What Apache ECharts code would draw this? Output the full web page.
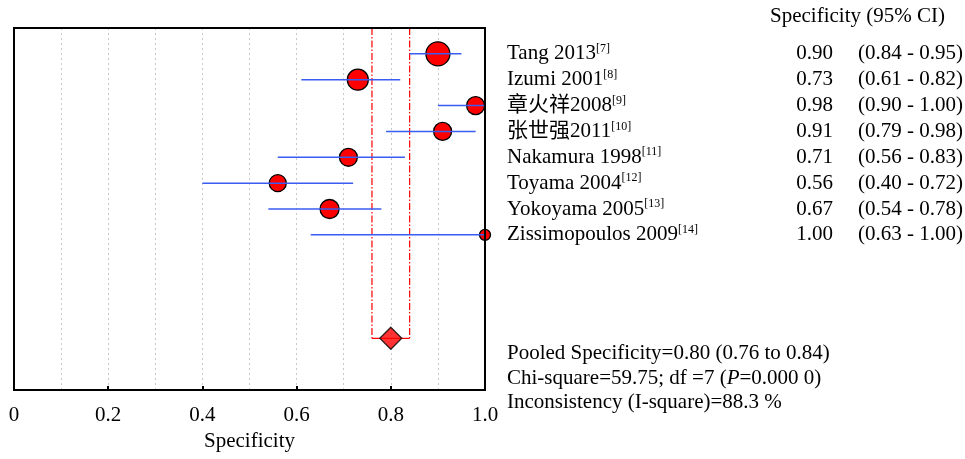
<!DOCTYPE html>
<html>
<head>
<meta charset="utf-8">
<title>Specificity forest plot</title>
<script src="https://cdn.jsdelivr.net/npm/echarts@6/dist/echarts.min.js"></script>
<style>
  html, body { margin: 0; padding: 0; background: #fff; }
  #chart { width: 965px; height: 459px; }
</style>
</head>
<body>
<div id="chart"></div>
<script>
  // study data, top row first
  var studies = ['Tang 2013', 'Izumi 2001', '章火祥2008', '张世强2011', 'Nakamura 1998', 'Toyama 2004', 'Yokoyama 2005', 'Zissimopoulos 2009'];
  var refs = ['7', '8', '9', '10', '11', '12', '13', '14'];
  var spec = [0.90, 0.73, 0.98, 0.91, 0.71, 0.56, 0.67, 1.00];
  var lower = [0.84, 0.61, 0.90, 0.79, 0.56, 0.40, 0.54, 0.63];
  var upper = [0.95, 0.82, 1.00, 0.98, 0.83, 0.72, 0.78, 1.00];
  var weights = [20.9, 16.0, 11.7, 11.7, 11.7, 10.5, 13.1, 4.4]; // % weight, drives marker size
  // pooled estimate: [value, lower, upper]
  var pooled = [0.80, 0.76, 0.84];
  var pooledRow = 11;
  var xTicks = [0, 0.2, 0.4, 0.6, 0.8, 1.0];
  var stats = ['Pooled Specificity=0.80 (0.76 to 0.84)', 'Chi-square=59.75; df =7 (', 'P', '=0.000 0)', 'Inconsistency (I-square)=88.3 %'];

  var FONT = '"Liberation Serif", "Times New Roman", "Noto Sans CJK SC", serif';
  var FS = 21;
  var chart = echarts.init(document.getElementById('chart'));

  var rows = studies.map(function (s, i) { return i; });

  function ciItem(params, api) {
    var a = api.coord([api.value(0), api.value(2)]);
    var b = api.coord([api.value(1), api.value(2)]);
    return {
      type: 'line',
      shape: { x1: a[0], y1: a[1], x2: b[0], y2: b[1] },
      style: { stroke: '#3a5cf0', lineWidth: 1.5 }
    };
  }

  function pooledBox(params, api) {
    var lo = pooled[1], hi = pooled[2];
    var tl = api.coord([lo, -1]), bl = api.coord([lo, pooledRow]);
    var tr = api.coord([hi, -1]), br = api.coord([hi, pooledRow]);
    var dash = { stroke: '#ff0000', lineWidth: 1.2, lineDash: [7, 2, 1.5, 2] };
    var solid = { stroke: '#ff0000', lineWidth: 1.2 };
    return {
      type: 'group',
      children: [
        { type: 'line', shape: { x1: tl[0], y1: tl[1], x2: bl[0], y2: bl[1] }, style: dash },
        { type: 'line', shape: { x1: tr[0], y1: tr[1], x2: br[0], y2: br[1] }, style: dash },
        { type: 'line', shape: { x1: bl[0], y1: bl[1], x2: br[0], y2: br[1] }, style: solid }
      ]
    };
  }

  function tableItem(params, api) {
    var i = params.dataIndex;
    var p = api.coord([0, i]);
    var base = { fontFamily: FONT, fontSize: FS, fill: '#000', verticalAlign: 'middle' };
    return {
      type: 'group',
      children: [
        {
          type: 'text', x: p[0], y: p[1],
          style: {
            text: '{n|' + studies[i] + '}{s|[' + refs[i] + ']}',
            verticalAlign: 'middle', align: 'left',
            rich: {
              n: { fontFamily: FONT, fontSize: FS, fill: '#000' },
              s: { fontFamily: FONT, fontSize: 12, fill: '#000', padding: [0, 0, 10, 0] }
            }
          }
        },
        { type: 'text', x: 833, y: p[1], style: Object.assign({ text: spec[i].toFixed(2), align: 'right' }, base) },
        { type: 'text', x: 963, y: p[1], style: Object.assign({ text: '(' + lower[i].toFixed(2) + ' - ' + upper[i].toFixed(2) + ')', align: 'right' }, base) }
      ]
    };
  }

  var option = {
    animation: false,
    backgroundColor: '#fff',
    textStyle: { fontFamily: FONT },
    grid: [
      { left: 14, right: 480, top: 28, bottom: 69, show: true, borderColor: '#000', borderWidth: 2, z: 5 },
      { left: 507, right: 0, top: 28, bottom: 69 }
    ],
    xAxis: [
      {
        // minor dotted grid every 0.1
        gridIndex: 0, type: 'value', min: 0, max: 1, interval: 0.1,
        axisLine: { show: false }, axisTick: { show: false }, axisLabel: { show: false },
        splitLine: { show: true, lineStyle: { color: '#c8c8c8', type: [2, 3], width: 1 } }
      },
      {
        gridIndex: 0, type: 'value', min: 0, max: 1, interval: 0.2, position: 'bottom',
        name: 'Specificity', nameLocation: 'middle', nameGap: 41,
        nameTextStyle: { fontFamily: FONT, fontSize: FS, color: '#000' },
        axisLine: { show: false },
        axisTick: { show: true, inside: true, length: 4, lineStyle: { color: '#000', width: 2 } },
        axisLabel: {
          fontFamily: FONT, fontSize: FS, color: '#000', margin: 15,
          formatter: function (v) {
            var t = xTicks.find(function (k) { return Math.abs(k - v) < 1e-6; });
            if (t === undefined) return '';
            return t === 0 ? '0' : t.toFixed(1);
          }
        },
        splitLine: { show: false }
      },
      { gridIndex: 1, type: 'value', min: 0, max: 1, show: false }
    ],
    yAxis: [
      { gridIndex: 0, type: 'value', min: -1, max: 13, inverse: true, show: false },
      { gridIndex: 1, type: 'value', min: -1, max: 13, inverse: true, show: false }
    ],
    series: [
      {
        type: 'custom', name: 'pooled CI', xAxisIndex: 0, yAxisIndex: 0,
        renderItem: pooledBox, data: [[pooled[0], pooledRow]], z: 2, silent: true
      },
      {
        type: 'scatter', name: 'study', xAxisIndex: 0, yAxisIndex: 0,
        data: rows.map(function (i) { return [spec[i], i, weights[i]]; }),
        symbol: 'circle',
        symbolSize: function (d) { return Math.sqrt(d[2]) * 5.25; },
        itemStyle: { color: '#ff0000', borderColor: '#000', borderWidth: 1.3, opacity: 1 },
        z: 3, clip: false
      },
      {
        type: 'custom', name: 'CI', xAxisIndex: 0, yAxisIndex: 0,
        renderItem: ciItem,
        data: rows.map(function (i) { return [lower[i], upper[i], i]; }),
        encode: { x: [0, 1], y: 2 }, z: 4
      },
      {
        type: 'scatter', name: 'pooled', xAxisIndex: 0, yAxisIndex: 0,
        data: [[pooled[0], pooledRow]],
        symbol: 'diamond', symbolSize: [22, 22],
        itemStyle: { color: '#ff0000', borderColor: '#000', borderWidth: 1.3 },
        z: 4
      },
      {
        type: 'custom', name: 'table', xAxisIndex: 2, yAxisIndex: 1,
        renderItem: tableItem,
        data: rows.map(function (i) { return [0, i]; }), silent: true
      }
    ],
    graphic: [
      {
        type: 'text', x: 770, y: 16,
        style: { text: 'Specificity (95% CI)', fontFamily: FONT, fontSize: FS, fill: '#000', verticalAlign: 'middle' }
      },
      {
        type: 'text', x: 507, y: 353,
        style: { text: stats[0], fontFamily: FONT, fontSize: FS, fill: '#000', verticalAlign: 'middle' }
      },
      {
        type: 'text', x: 507, y: 378,
        style: {
          text: '{n|' + stats[1] + '}{i|' + stats[2] + '}{n|' + stats[3] + '}',
          verticalAlign: 'middle',
          rich: {
            n: { fontFamily: FONT, fontSize: FS, fill: '#000' },
            i: { fontFamily: FONT, fontSize: FS, fill: '#000', fontStyle: 'italic' }
          }
        }
      },
      {
        type: 'text', x: 507, y: 402,
        style: { text: stats[4], fontFamily: FONT, fontSize: FS, fill: '#000', verticalAlign: 'middle' }
      }
    ]
  };

  chart.setOption(option);
</script>
</body>
</html>
